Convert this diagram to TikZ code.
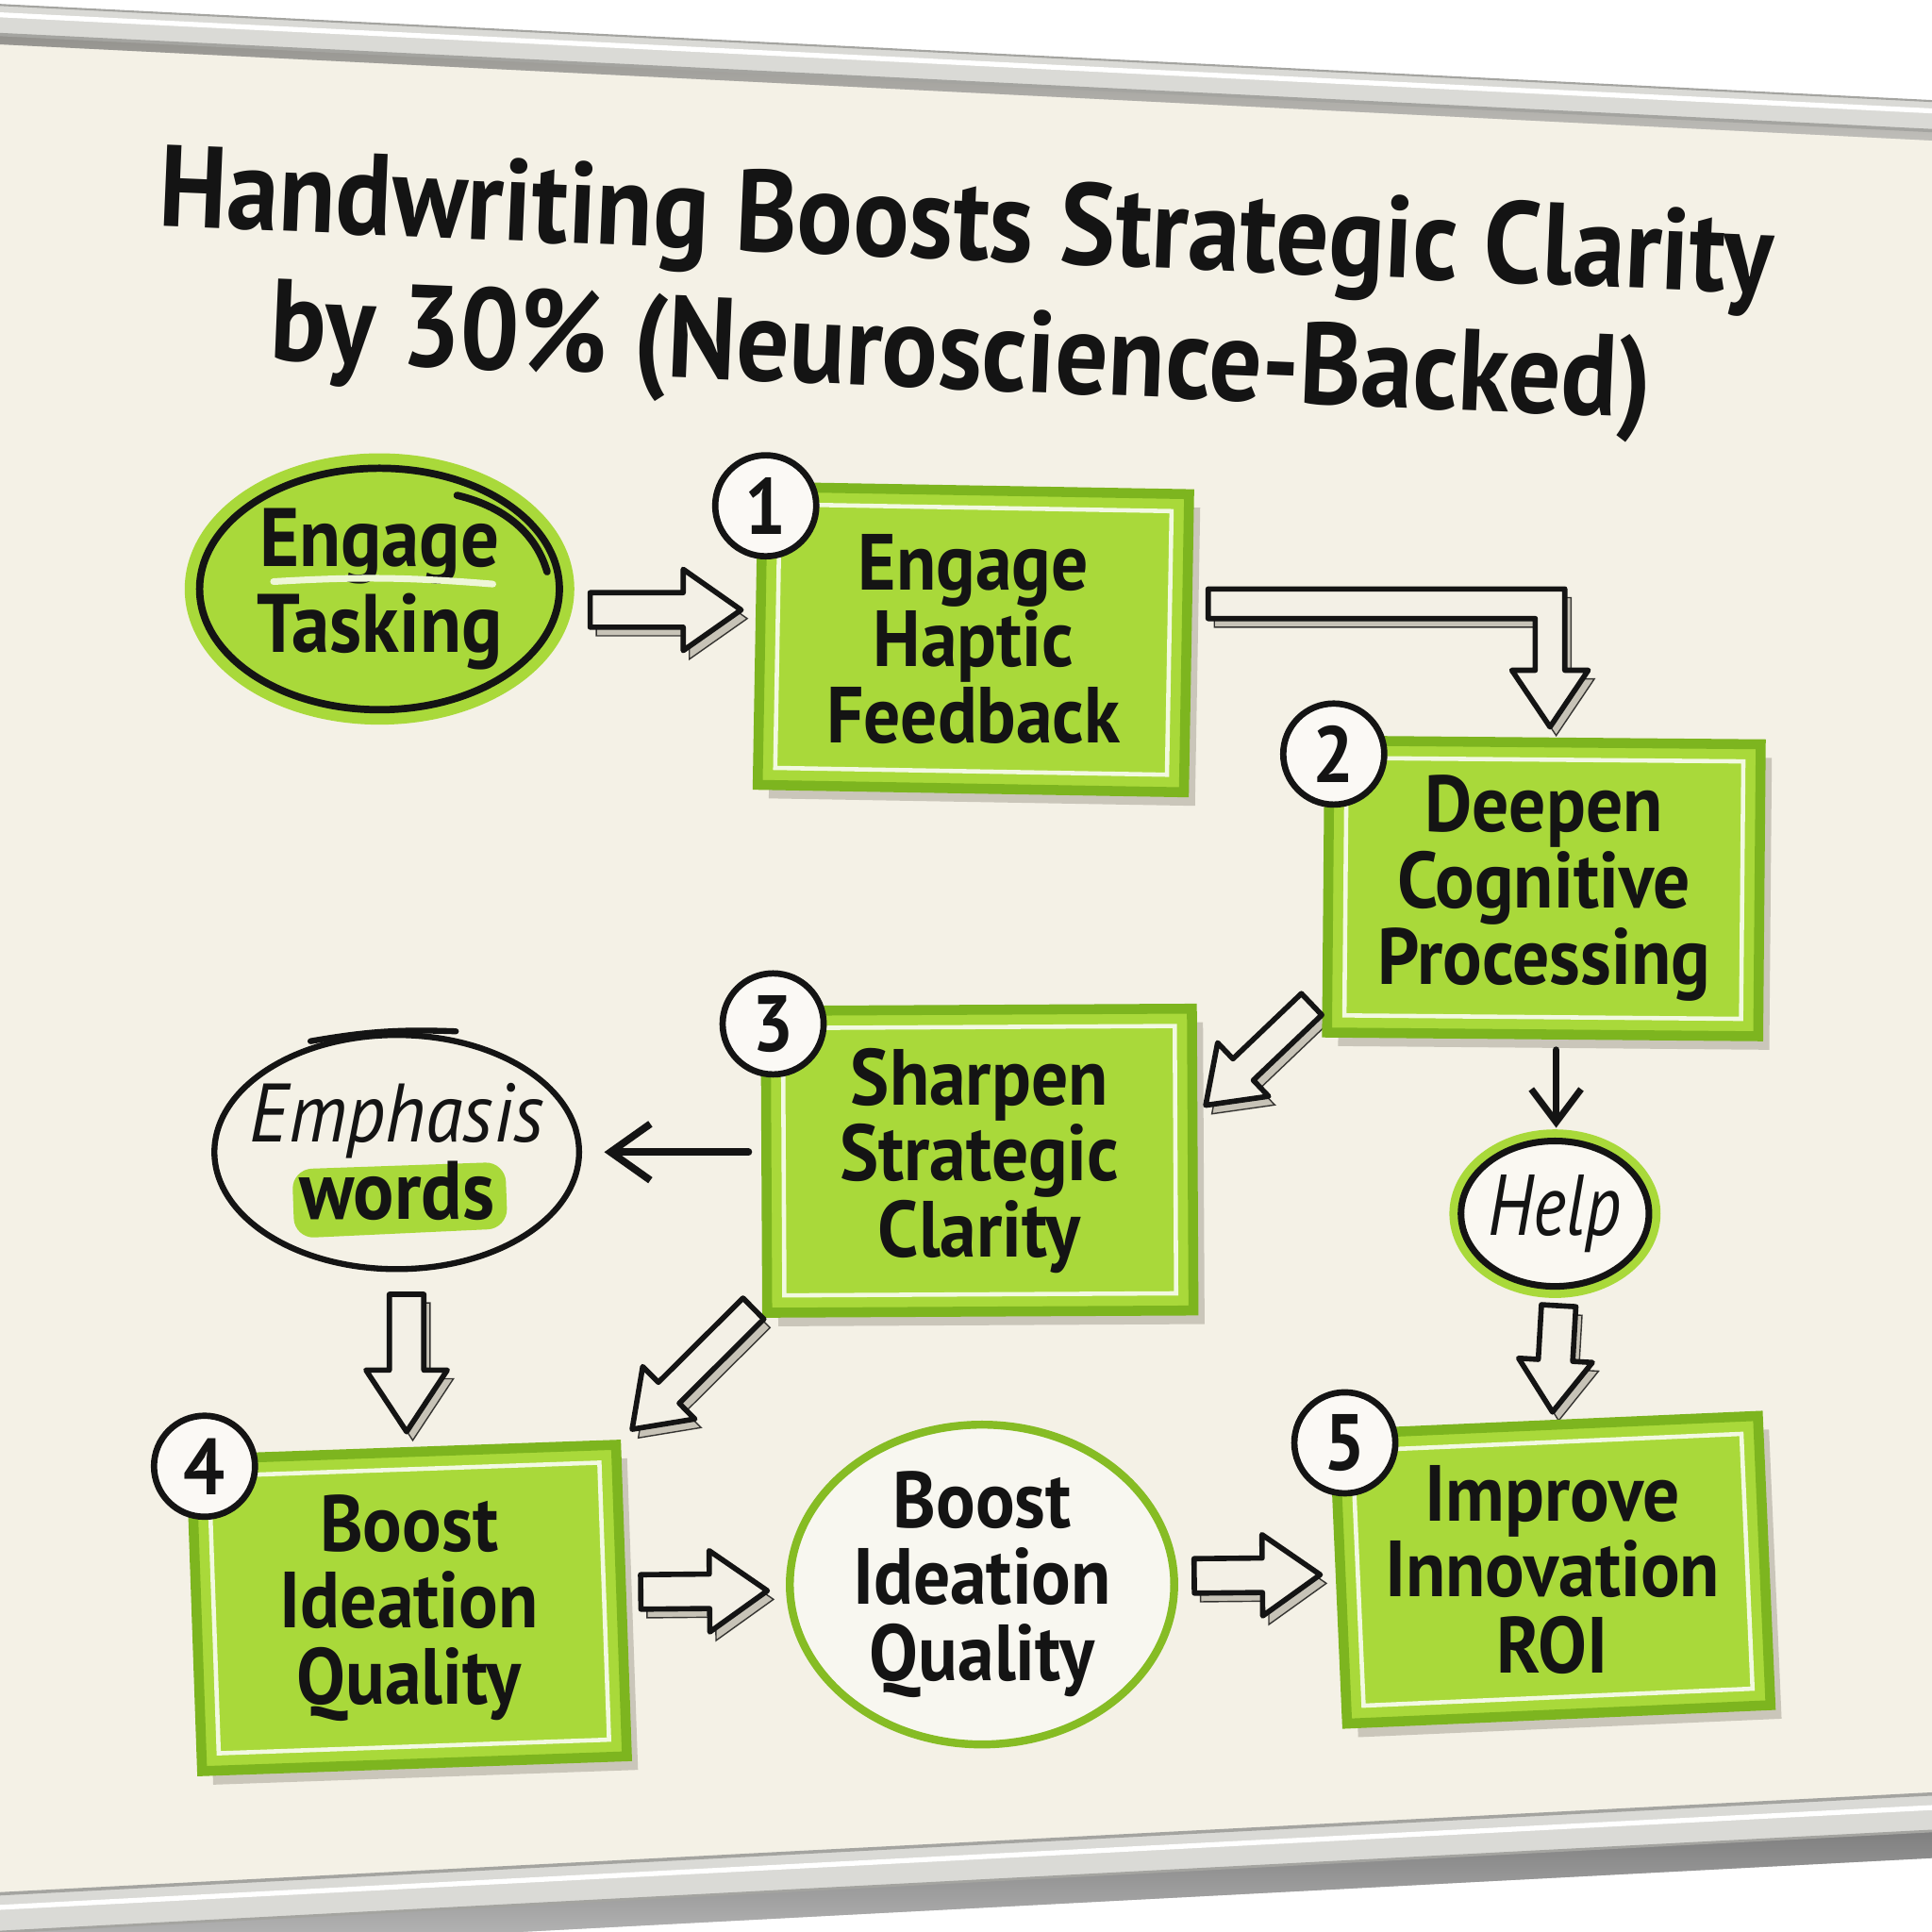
\documentclass[tikz,border=0pt]{standalone}
\usepackage{fontspec}
\setmainfont{PT Sans}[FakeStretch=0.92]
\newfontfamily\titlefont{PT Sans}[FakeStretch=0.9]
\newfontfamily\helpfont{PT Sans}[FakeStretch=0.82]
\usetikzlibrary{calc,arrows.meta,shapes.geometric}
\pgfdeclarelayer{back}
\pgfdeclarelayer{bg}
\pgfsetlayers{back,bg,main}
\definecolor{board}{HTML}{F4F1E6}
\definecolor{lime}{HTML}{A9D93A}
\definecolor{limedark}{HTML}{7DB51F}
\definecolor{ink}{HTML}{141414}
\definecolor{shade}{HTML}{B9B4A8}
\definecolor{arrfill}{HTML}{F3F0E6}
\definecolor{frameA}{HTML}{DADAD6}
\definecolor{frameB}{HTML}{A4A4A0}
\newcommand\U{*0.3716pt}
\tikzset{
 boxframe/.style={draw=limedark, fill=lime, line width=3pt, inner sep=0pt},
 boxtext/.style={inner sep=0pt, align=center, text=ink, font=\bfseries\fontsize{24}{23}\selectfont},
 boxinner/.style={draw=white!85!lime, line width=1.3pt, inner sep=0pt},
 boxshadow/.style={fill=shade, opacity=0.7, inner sep=0pt},
 badge/.style={circle, draw=ink, fill=white!60!board, line width=1.9pt, minimum size=82\U, inner sep=0pt, font=\bfseries\fontsize{24}{24}\selectfont, text=ink},
 arrbody/.style={draw=ink, fill=arrfill, line width=1.6pt, line join=round},
 arrshadow/.style={fill=shade, opacity=0.75},
 ovalbase/.style={ellipse, inner sep=0pt, align=center, text=ink},
}
\newcommand\mybox[7]{%
 \begin{pgfonlayer}{bg}
 \node[boxshadow, rotate=#6, minimum width=#4\U, minimum height=#5\U] (#1sh) at (#2+9,#3+11) {};
 \end{pgfonlayer}
 \node[boxframe, rotate=#6, minimum width=#4\U, minimum height=#5\U] (#1fr) at (#2,#3) {};
 \node[boxinner, rotate=#6, minimum width=#4\U-28\U, minimum height=#5\U-28\U] (#1in) at (#2,#3) {};
 \node[boxtext, minimum width=#4\U, minimum height=#5\U] (#1) at (#2,#3) {#7};
}
\newcommand\BApath[6]{%
 \coordinate (T) at ($(#2)!#5\U!(#1)$);
 \draw[#6] ($(#1)!#3\U!90:(#2)$) -- ($(T)!#3\U!-90:(#1)$) -- ($(T)!#4\U!-90:(#1)$) -- (#2) -- ($(T)!#4\U!90:(#1)$) -- ($(T)!#3\U!90:(#1)$) -- ($(#1)!#3\U!-90:(#2)$) -- cycle;
}
\newcommand\BA[5]{%
 \coordinate (#1s) at ($(#1)+(5,7)$);
 \coordinate (#2s) at ($(#2)+(5,7)$);
 \begin{pgfonlayer}{bg}\BApath{#1s}{#2s}{#3}{#4}{#5}{arrshadow}\end{pgfonlayer}
 \BApath{#1}{#2}{#3}{#4}{#5}{arrbody}
}
\newcommand\elbowpath[4]{%
 \draw[#4] ($(#1)+(0,-12)$) -- ($(#2)+(12,-12)$) -- ($(#3)+(12,-46)$) -- ($(#3)+(31,-46)$) -- (#3) -- ($(#3)+(-31,-46)$) -- ($(#3)+(-12,-46)$) -- ($(#2)+(-12,12)$) -- ($(#1)+(0,12)$) -- cycle;
}
\begin{document}
\begin{tikzpicture}[x=0.0130612cm,y=-0.0130612cm]
\useasboundingbox (0,0) rectangle (1568,1568);
\begin{pgfonlayer}{back}
\fill[white] (0,0) rectangle (1568,1568);
\fill[board] (0,25) -- (1568,100) -- (1568,1462) -- (0,1545) -- cycle;
\fill[shade, opacity=0.35] (0,28) -- (1568,106) -- (1568,114) -- (0,36) -- cycle;
\fill[frameA] (0,4) -- (1568,82) -- (1568,106) -- (0,28) -- cycle;
\draw[white, line width=1.5pt] (0,12) -- (1568,90);
\draw[frameB, line width=1pt] (0,28) -- (1568,106);
\draw[frameB, line width=0.6pt] (0,4) -- (1568,82);
\fill[shade, opacity=0.5] (0,1568) -- (1568,1486) -- (1568,1508) -- (0,1590) -- cycle;
\fill[frameA] (0,1537) -- (1568,1456) -- (1568,1486) -- (0,1568) -- cycle;
\draw[frameB, line width=1pt] (0,1537) -- (1568,1456);
\draw[white, line width=1.5pt] (0,1548) -- (1568,1467);
\draw[frameB, line width=0.8pt] (0,1568) -- (1568,1486);
\end{pgfonlayer}

% title
\node[rotate=-2.4, align=center, text=ink, font=\titlefont\bfseries\fontsize{35}{39}\selectfont] (title) at (782,240)
 {Handwriting Boosts Strategic Clarity\\by 30\% (Neuroscience-Backed)};

% boxes
\mybox{b1}{790}{519}{346}{242}{-1}{Engage\\Haptic\\Feedback}
\mybox{b2}{1253}{721}{350}{237}{-0.5}{Deepen\\Cognitive\\Processing}
\mybox{b3}{795}{942}{346}{245}{0.3}{Sharpen\\Strategic\\Clarity}
\mybox{b4}{332}{1305}{345}{253}{2}{Boost\\Ideation\\Quality}
\mybox{b5}{1260}{1274}{344}{235}{2.5}{Improve\\Innovation\\ROI}

% badges
\node[badge] (n1) at ($(b1.north west)+(5,13)$) {1};
\node[badge] (n2) at ($(b2.north west)+(5,10)$) {2};
\node[badge] (n3) at ($(b3.north west)+(6,12)$) {3};
\node[badge] (n4) at ($(b4.north west)+(7,12)$) {4};
\node[badge] (n5) at ($(b5.north west)+(4,15)$) {5};

% ovals
\node[ovalbase, minimum width=292\U, minimum height=196\U, fill=lime, draw=ink, line width=2.2pt,
 preaction={draw=lime, line width=9pt}, font=\bfseries\fontsize{25}{26}\selectfont] (et) at (308,478) {Engage\\Tasking};
\draw[ink, line width=2.2pt, line cap=round] ($(et.center)+(63,-76)$) .. controls ($(et.center)+(105,-66)$) and ($(et.center)+(128,-42)$) .. ($(et.center)+(136,-14)$);
\draw[white!80!lime, line width=2pt, line cap=round] ($(et.center)+(-86,-6)$) to[bend left=4] ($(et.center)+(92,-4)$);
\node[ovalbase, minimum width=144\U, minimum height=118\U, fill=white!50!board, draw=ink, line width=2pt,
 preaction={draw=lime, line width=7pt}, font=\helpfont\itshape\fontsize{26}{26}\selectfont] (help) at (1262,985) {Help};
\node[ovalbase, inner xsep=-8pt, inner ysep=-2pt, minimum width=296\U, minimum height=190\U, draw=ink, line width=1.8pt,
 font=\fontsize{25}{23.4}\selectfont] (emph) at (322,935) {\itshape Emphasis\\\bfseries words};
\begin{pgfonlayer}{bg}
\fill[lime, rounded corners=6pt] ($(emph.center)+(-85,14)$) -- ($(emph.center)+(88,8)$) -- ($(emph.center)+(90,62)$) -- ($(emph.center)+(-83,70)$) -- cycle;
\end{pgfonlayer}
\draw[ink, line width=1.8pt, line cap=round] ($(emph.center)+(-70,-90)$) to[bend left=6] ($(emph.center)+(48,-98)$);
\node[ovalbase, minimum width=312\U, minimum height=246\U, fill=white!40!board, draw=limedark!80!lime, line width=2.4pt,
 font=\bfseries\fontsize{24}{23}\selectfont] (ebq) at (797,1286) {Boost\\Ideation\\Quality};

% block arrows
\coordinate (a1a) at ($(et.east)+(22,17)$);
\coordinate (a1b) at ($(b1.west)+(-15,-24)$);
\BA{a1a}{a1b}{14}{33}{47}
\coordinate (e1s) at ($(b1.east)+(17,-29)$);
\coordinate (e1t) at ($(b2.north)+(5,-12)$);
\coordinate (e1c) at (e1t |- e1s);
\coordinate (e1ss) at ($(e1s)+(5,7)$);
\coordinate (e1ts) at ($(e1t)+(5,7)$);
\coordinate (e1cs) at ($(e1c)+(5,7)$);
\begin{pgfonlayer}{bg}\elbowpath{e1ss}{e1cs}{e1ts}{arrshadow}\end{pgfonlayer}
\elbowpath{e1s}{e1c}{e1t}{arrbody}
\coordinate (a2a) at ($(b2.south west)+(-13,-25)$);
\coordinate (a2b) at ($(b3.east)+(10,-45)$);
\BA{a2a}{a2b}{12}{30}{42}
\coordinate (a3a) at ($(help.south)+(3,13)$);
\coordinate (a3b) at ($(b5.north)+(0,-10)$);
\BA{a3a}{a3b}{14}{30}{42}
\coordinate (a4a) at ($(emph.south)+(8,18)$);
\coordinate (a4b) at ($(b4.north)+(-2,-16)$);
\BA{a4a}{a4b}{14}{33}{50}
\coordinate (a5a) at ($(b3.south west)+(-10,-3)$);
\coordinate (a5b) at ($(b4.north east)+(8,-18)$);
\BA{a5a}{a5b}{12}{30}{42}
\coordinate (a6a) at ($(b4.east)+(15,-13)$);
\coordinate (a6b) at ($(ebq.west)+(-15,5)$);
\BA{a6a}{a6b}{14}{33}{47}
\coordinate (a7a) at ($(ebq.east)+(13,-7)$);
\coordinate (a7b) at ($(b5.west)+(-16,4)$);
\BA{a7a}{a7b}{14}{33}{47}

% thin arrows
\draw[ink, line width=2pt, line cap=round, -{Straight Barb[length=10pt, width=15pt]}] ($(b2.south)+(10,12)$) -- ($(help.north)+(1,-8)$);
\draw[ink, line width=2.2pt, line cap=round, -{Straight Barb[length=12pt, width=17pt]}] ($(b3.west)+(-14,-7)$) -- ($(emph.east)+(18,0)$);
\end{tikzpicture}
\end{document}
